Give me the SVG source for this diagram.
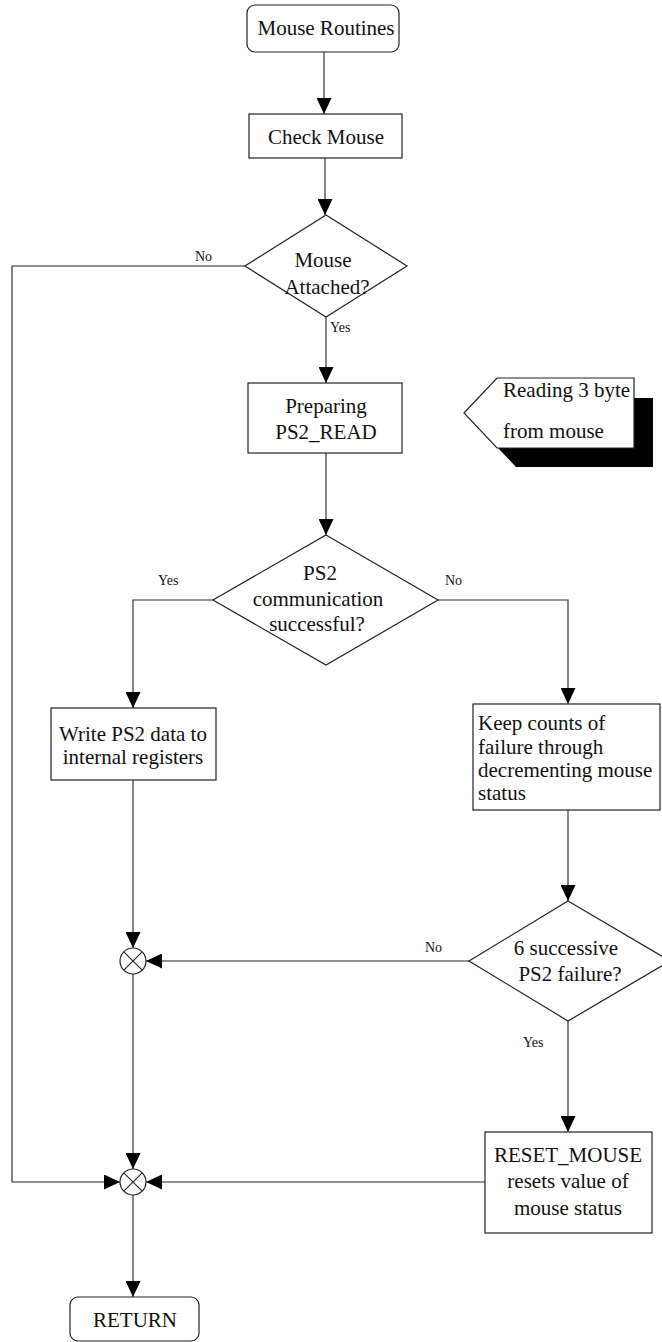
<svg xmlns="http://www.w3.org/2000/svg" width="662" height="1342" viewBox="0 0 662 1342">
  <defs>
    <marker id="arrow" markerWidth="16" markerHeight="15" refX="16" refY="7.5" orient="auto" markerUnits="userSpaceOnUse">
      <path d="M0,0 L16,7.5 L0,15 Z" fill="#000"/>
    </marker>
    <style>
      .shape { fill: #fff; stroke: #222; stroke-width: 1.2; }
      .wire { fill: none; stroke: #222; stroke-width: 1.1; }
      .lbl { font-family: "Liberation Serif", "Times New Roman", serif; font-size: 21px; fill: #111; }
      .small { font-family: "Liberation Serif", "Times New Roman", serif; font-size: 14px; fill: #111; }
      .mid { text-anchor: middle; }
    </style>
  </defs>
  <rect width="662" height="1342" fill="#fff"/>

  <!-- connectors -->
  <g id="connectors">
    <path class="wire" d="M324,52 V114" marker-end="url(#arrow)"/>
    <path class="wire" d="M325,158 V215" marker-end="url(#arrow)"/>
    <path class="wire" d="M245,266 H12 V1182 H120" marker-end="url(#arrow)"/>
    <path class="wire" d="M326,317 V383" marker-end="url(#arrow)"/>
    <path class="wire" d="M326,453 V535" marker-end="url(#arrow)"/>
    <path class="wire" d="M213,600 H133 V708" marker-end="url(#arrow)"/>
    <path class="wire" d="M438,600 H568 V704" marker-end="url(#arrow)"/>
    <path class="wire" d="M133,780 V948" marker-end="url(#arrow)"/>
    <path class="wire" d="M568,810 V901" marker-end="url(#arrow)"/>
    <path class="wire" d="M469,961 H146" marker-end="url(#arrow)"/>
    <path class="wire" d="M133,974 V1169" marker-end="url(#arrow)"/>
    <path class="wire" d="M568,1021 V1132" marker-end="url(#arrow)"/>
    <path class="wire" d="M485,1182 H146" marker-end="url(#arrow)"/>
    <path class="wire" d="M133,1195 V1297" marker-end="url(#arrow)"/>
    <text class="small" x="195" y="261">No</text>
    <text class="small" x="330" y="332">Yes</text>
    <text class="small" x="158" y="585">Yes</text>
    <text class="small" x="445" y="585">No</text>
    <text class="small" x="425" y="952">No</text>
    <text class="small" x="523" y="1047">Yes</text>
  </g>

  <g id="mouse-routines">
    <rect class="shape" x="247" y="5" width="152" height="47" rx="8"/>
    <text class="lbl mid" x="326" y="35">Mouse Routines</text>
  </g>

  <g id="check-mouse">
    <rect class="shape" x="249" y="114" width="153" height="44"/>
    <text class="lbl mid" x="326" y="144">Check Mouse</text>
  </g>

  <g id="mouse-attached">
    <polygon class="shape" points="326,215 407,266 326,317 245,266"/>
    <text class="lbl mid" x="323" y="267">Mouse</text>
    <text class="lbl mid" x="327" y="294">Attached?</text>
  </g>

  <g id="preparing-read">
    <rect class="shape" x="248" y="383" width="154" height="70"/>
    <text class="lbl mid" x="326" y="413">Preparing</text>
    <text class="lbl mid" x="326" y="439">PS2_READ</text>
  </g>

  <g id="reading-note">
    <polygon points="483,432 516,398 653,398 653,467 516,467" fill="#000"/>
    <polygon class="shape" points="464,413 497,378 634,378 634,448 497,448"/>
    <text class="lbl" x="503" y="397">Reading 3 byte</text>
    <text class="lbl" x="503" y="438">from mouse</text>
  </g>

  <g id="ps2-success">
    <polygon class="shape" points="326,535 438,600 326,665 213,600"/>
    <text class="lbl mid" x="320" y="580">PS2</text>
    <text class="lbl mid" x="318" y="606">communication</text>
    <text class="lbl mid" x="317" y="631">successful?</text>
  </g>

  <g id="write-data">
    <rect class="shape" x="51" y="708" width="165" height="72"/>
    <text class="lbl mid" x="133" y="741">Write PS2 data to</text>
    <text class="lbl mid" x="133" y="764">internal registers</text>
  </g>

  <g id="keep-counts">
    <rect class="shape" x="473" y="704" width="187" height="106"/>
    <text class="lbl" x="478" y="730">Keep counts of</text>
    <text class="lbl" x="478" y="754">failure through</text>
    <text class="lbl" x="478" y="777">decrementing mouse</text>
    <text class="lbl" x="478" y="800">status</text>
  </g>

  <g id="six-failures">
    <polygon class="shape" points="568,901 670,961 568,1021 469,961"/>
    <text class="lbl mid" x="566" y="955">6 successive</text>
    <text class="lbl mid" x="570" y="981">PS2 failure?</text>
  </g>

  <g id="reset-mouse">
    <rect class="shape" x="485" y="1132" width="167" height="101"/>
    <text class="lbl mid" x="568" y="1162">RESET_MOUSE</text>
    <text class="lbl mid" x="568" y="1188">resets value of</text>
    <text class="lbl mid" x="568" y="1215">mouse status</text>
  </g>

  <g id="merge-1">
    <circle class="shape" cx="133" cy="961" r="13"/>
    <path class="wire" d="M123.8,951.8 L142.2,970.2 M142.2,951.8 L123.8,970.2"/>
  </g>

  <g id="merge-2">
    <circle class="shape" cx="133" cy="1182" r="13"/>
    <path class="wire" d="M123.8,1172.8 L142.2,1191.2 M142.2,1172.8 L123.8,1191.2"/>
  </g>

  <g id="return">
    <rect class="shape" x="70" y="1297" width="129" height="44" rx="8"/>
    <text class="lbl mid" x="135" y="1327">RETURN</text>
  </g>
</svg>
